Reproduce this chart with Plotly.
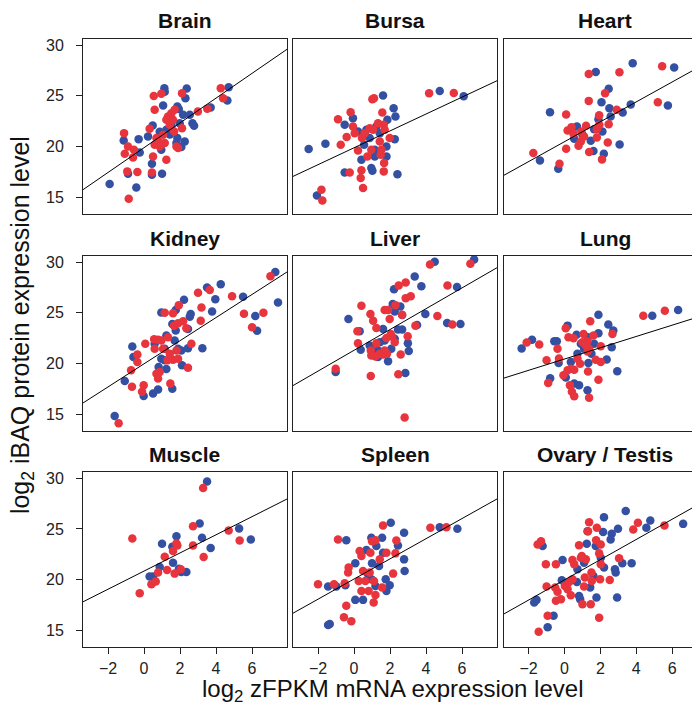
import plotly.graph_objects as go

W, H = 700, 703
FONT = "Liberation Sans, Arial, Helvetica, sans-serif"
BLUE = "#3450A2"
RED = "#E8343D"

panels = ["Brain", "Bursa", "Heart", "Kidney", "Liver", "Lung", "Muscle", "Spleen", "Ovary / Testis"]

x_ticks = [-2, 0, 2, 4, 6]
y_ticks = [15, 20, 25, 30]
x_range = [-3.39, 7.94]
y_range = [13.35, 30.6]

# ---- data (log2 zFPKM mRNA, log2 iBAQ protein) ----
brain_blue_x = [-1.91,-0.43,-0.89,-1.13,-0.24,-0.30,0.44,0.44,1.0,1.06,1.13,1.15,0.48,0.22,0.96,1.43,1.85,1.93,2.3,2.37,2.17,2.26,2.07,1.85,2.69,2.78,2.54,3.7,4.7,4.63,1.52,1.8,1.24,1.98,0.87]
brain_blue_y = [16.34,16.0,17.35,20.62,19.44,20.75,18.33,17.25,17.35,24.05,25.75,25.4,22.1,21.0,19.7,21.2,23.95,23.7,24.77,25.72,23.14,20.52,19.97,20.85,22.32,22.06,23.14,23.86,25.85,24.54,22.06,20.36,21.67,22.32,21.47]
brain_red_x = [-0.85,-0.93,-0.37,-1.11,-1.07,-0.89,-0.56,-0.61,0.44,0.5,0.31,0.54,0.59,0.96,1.24,0.59,0.87,1.15,1.33,1.52,1.24,1.61,1.43,1.7,1.8,1.89,2.11,2.11,1.67,2.99,3.51,4.26,4.39,0.69,1.06,0.81]
brain_red_y = [14.9,17.58,17.52,21.34,19.31,20.03,19.71,18.95,17.48,19.05,21.76,25.0,23.63,25.2,18.73,20.2,20.03,20.36,22.97,23.3,22.65,22.65,22.16,23.63,20.03,19.87,25.26,21.83,21.5,23.46,23.73,25.75,24.77,20.85,21.18,20.52]

bursa_blue_x = [-2.52,-1.59,-2.06,-0.52,-0.06,1.61,2.2,2.3,1.85,-0.52,0.96,1.02,0.41,1.15,1.8,1.8,2.41,2.26,4.76,6.09,0.69,1.43,0.56,0.22,1.24,1.15,0.87]
bursa_blue_y = [19.77,20.29,15.2,22.16,22.81,25.03,23.79,22.97,22.65,17.48,17.91,17.65,18.73,19.71,20.03,19.05,17.29,20.75,25.49,24.97,21.67,21.34,20.2,21.5,21.99,19.05,20.85]
bursa_red_x = [-1.81,-1.76,-0.89,-0.74,-0.41,-0.19,-0.06,-0.24,0.41,0.37,0.5,0.22,0.74,1.02,1.11,1.57,1.65,1.7,1.43,1.52,1.67,1.65,1.98,0.87,0.44,1.06,1.33,0.04,0.96,4.17,5.54,1.48,0.59]
bursa_red_y = [15.78,14.71,22.71,20.2,20.95,23.4,21.99,17.48,17.68,16.93,15.95,19.64,19.05,24.67,24.77,23.37,22.16,21.67,20.52,19.71,18.4,17.58,20.85,21.83,20.85,21.67,22.32,21.34,19.71,25.26,25.29,19.21,21.34]

heart_blue_x = [-1.37,-0.35,-0.81,1.74,2.46,2.06,2.5,2.57,3.24,3.69,3.8,6.11,5.76,3.07,2.19,1.61,1.46,1.65,0.54,0.69,2.11,1.89,1.0]
heart_blue_y = [18.66,17.84,23.4,27.35,25.69,24.38,23.79,22.97,23.37,24.15,28.2,27.78,24.05,20.23,19.31,19.58,20.59,21.73,20.78,21.99,21.5,22.71,21.18]
heart_red_x = [-1.74,-0.28,0.09,0.09,1.35,3.06,2.26,1.35,1.93,2.91,2.46,2.41,2.09,1.37,0.78,0.91,0.17,0.39,0.5,1.2,1.09,1.8,1.94,5.44,5.2,0.94,1.8]
heart_red_y = [19.38,18.33,23.17,19.8,27.16,27.32,25.26,24.51,23.1,23.63,22.22,20.42,18.76,19.48,20.1,20.52,21.6,21.93,21.27,22.06,21.01,21.73,22.16,27.91,24.38,21.5,20.92]

kidney_blue_x = [-1.63,-1.07,-0.65,-0.59,-0.02,0.5,0.78,1.57,1.24,0.81,0.96,1.76,2.22,2.54,2.59,2.11,2.44,3.24,3.78,3.96,3.5,4.26,5.5,1.57,1.76,1.24,1.7,1.15,1.89,0.96,1.15,0.59,2.44,2.07,7.29,6.18,6.28,7.44]
kidney_blue_y = [14.84,18.29,21.69,20.64,16.8,17.06,17.45,17.51,19.47,19.66,25.04,25.27,26.28,24.62,24.88,19.83,21.52,21.52,25.14,26.35,27.49,27.82,26.58,23.9,23.25,22.76,22.27,21.46,21.46,20.48,20.32,21.95,23.41,21.3,29.02,24.68,23.24,26.02]
kidney_red_x = [-1.41,-0.72,-0.37,-0.37,-0.67,-0.11,-0.02,0.07,0.56,0.78,0.69,0.78,0.87,1.15,1.61,1.93,1.46,1.67,1.89,2.17,2.35,2.44,2.63,3.15,3.19,3.0,3.65,4.89,0.96,1.33,1.06,1.43,1.61,1.3,1.89,0.59,1.8,7.02,5.55,6.63,6.0]
kidney_red_y = [14.12,19.34,20.9,20.15,17.71,17.22,17.87,21.95,22.4,22.34,19.01,18.52,19.17,25.01,24.95,25.76,18.03,23.74,23.97,24.16,23.48,19.6,21.95,24.23,25.53,26.97,27.26,26.64,22.27,22.6,21.46,20.97,20.38,20.32,20.48,21.46,21.3,28.6,24.9,25.0,23.57]

liver_blue_x = [-1.02,-0.31,0.31,0.37,0.96,1.33,1.43,1.61,1.89,2.07,2.22,2.15,2.26,2.57,2.67,2.44,2.67,2.99,3.04,2.85,3.37,3.74,3.5,3.96,4.48,5.17,5.72,5.91,6.67,2.26,1.7,0.87,1.33]
liver_blue_y = [19.17,24.39,23.19,21.36,21.36,21.29,22.11,23.41,20.22,21.46,27.33,25.86,25.14,25.63,24.78,23.35,23.35,22.01,21.23,19.08,28.57,27.62,23.81,24.88,30.03,24.0,27.55,23.9,30.26,22.44,22.27,21.78,20.64]
liver_red_x = [-1.02,0.93,0.41,0.19,0.22,0.91,1.06,1.24,1.24,0.93,0.96,1.19,1.61,1.83,1.7,1.89,1.98,2.3,2.48,2.87,2.87,3.15,2.67,1.8,2.11,2.26,2.04,2.98,2.59,2.46,2.81,3.41,4.22,4.63,5.19,5.46,6.46,1.7,1.43]
liver_red_y = [19.5,18.78,25.7,23.19,22.01,24.88,24.23,23.51,22.01,21.29,20.8,20.71,20.9,20.97,25.27,25.27,24.39,25.76,27.69,27.98,26.45,26.64,24.82,22.53,22.66,22.11,22.92,22.7,20.9,18.95,14.68,23.74,29.77,24.69,27.69,23.84,29.84,21.29,20.97]

lung_blue_x = [-2.39,-1.81,-0.57,-0.43,-0.33,0.17,0.67,0.35,0.07,-0.8,0.54,0.81,1.28,1.33,0.72,0.91,1.31,1.65,1.89,1.89,2.44,2.72,2.63,2.35,2.94,4.89,6.33,1.5,1.09]
lung_blue_y = [21.49,22.34,22.21,22.21,20.06,23.74,22.83,20.15,18.62,18.56,18.03,17.87,17.38,20.06,20.97,21.95,22.6,21.95,22.99,24.82,23.84,23.25,21.62,20.41,19.24,24.72,25.27,20.97,21.46]
lung_red_x = [-2.11,-1.41,-1.0,-0.39,-0.31,-0.91,-0.06,0.07,0.22,0.5,0.17,0.35,0.54,0.3,0.41,0.54,0.72,0.87,1.06,1.28,1.43,1.61,1.28,1.37,1.74,2.02,2.02,1.31,1.89,1.37,2.67,4.39,5.59,1.0,1.19]
lung_red_y = [22.08,21.88,20.32,21.46,20.51,18.1,18.85,23.48,22.6,22.5,19.34,19.5,19.4,17.87,17.22,16.79,20.48,19.99,22.92,22.21,24.16,22.76,21.2,21.46,20.38,20.15,21.72,19.21,18.42,16.63,22.92,24.72,25.21,22.11,21.78]

muscle_blue_x = [0.31,0.5,0.87,1.0,1.57,1.61,1.8,1.94,2.35,2.07,3.09,3.22,3.5,3.7,5.28,5.93]
muscle_blue_y = [20.32,20.32,21.26,23.54,23.25,21.69,24.29,21.1,20.77,20.77,25.53,24.13,29.67,23.12,25.04,23.96]
muscle_red_x = [-0.65,-0.24,0.41,0.65,0.78,1.15,1.28,1.61,1.7,1.8,1.85,2.04,2.72,2.72,3.28,3.31,4.7,5.31]
muscle_red_y = [24.07,18.69,19.57,19.83,20.71,22.27,20.97,22.83,20.61,23.58,23.38,21.03,25.27,23.38,29.02,22.24,24.85,23.87]

spleen_blue_x = [-1.44,-1.35,-1.44,-0.98,-0.48,-0.43,0.07,0.07,0.5,0.69,0.96,1.0,0.96,1.19,1.39,1.56,1.61,1.76,1.98,1.8,2.04,2.44,2.78,2.78,2.81,4.76,5.74,1.24,0.78]
spleen_blue_y = [15.56,15.65,19.34,19.34,19.47,23.9,21.62,18.03,18.03,22.93,24.13,21.62,20.06,19.4,21.36,24.13,22.66,20.06,19.47,18.91,25.6,23.38,24.62,22.01,20.87,25.17,25.01,23.32,20.55]
spleen_red_x = [-2.0,-1.11,-0.89,-0.56,-0.15,-0.43,-0.52,-0.33,-0.3,0.26,0.31,0.41,0.41,0.5,0.63,0.81,0.91,1.0,1.2,1.09,1.19,1.11,1.43,1.61,1.8,1.56,2.3,2.35,2.17,4.24,5.13,0.87]
spleen_red_y = [19.57,19.57,23.97,16.31,15.92,17.45,19.66,20.71,21.2,19.89,22.83,22.34,18.91,20.87,19.89,18.91,22.66,23.8,23.9,17.77,18.52,19.89,22.01,25.34,22.66,19.24,22.6,23.87,20.61,25.11,25.17,20.71]

gonad_blue_x = [-1.69,-1.56,-0.94,-0.61,-1.22,-0.11,-0.15,0.07,0.69,0.72,0.81,0.87,1.24,1.28,1.43,1.61,1.78,1.74,2.2,2.15,2.2,2.57,2.63,2.81,2.85,2.98,2.93,3.22,3.41,3.74,4.56,4.78,6.61,2.02,1.09]
gonad_blue_y = [17.77,18.03,15.33,16.47,23.32,21.95,19.96,19.66,19.79,21.03,18.42,18.1,23.54,24.78,19.24,20.38,18.26,23.32,26.15,24.69,21.2,23.97,24.52,21.03,20.71,25.01,18.26,21.62,26.77,21.62,25.11,25.83,25.5,22.18,21.69]
gonad_red_x = [-1.44,-0.94,-1.5,-1.31,-1.04,-0.48,-1.0,-0.52,-0.39,-0.48,-0.2,0.02,0.17,0.35,0.44,0.54,0.44,0.26,0.81,0.96,1.13,1.09,1.0,1.46,1.19,1.37,1.31,1.5,1.52,1.8,1.76,2.02,1.93,1.98,2.02,1.93,2.52,3.04,3.83,4.09,5.57,0.91]
gonad_red_y = [14.9,16.47,23.48,23.8,21.52,21.52,19.34,19.24,18.82,17.94,18.1,19.4,19.08,18.49,21.95,21.52,20.06,19.79,23.41,22.34,20.22,19.34,17.61,17.61,22.01,25.66,24.78,20.71,19.89,25.11,23.9,23.48,22.6,20.06,21.52,16.27,19.99,22.11,24.95,25.6,25.34,22.18]

fit_slopes = [1.218, 0.83, 0.978, 1.139, 1.025, 0.556, 0.892, 0.991, 0.993]
fit_intercepts = [19.91, 19.9, 20.5, 19.98, 21.31, 20.45, 20.86, 20.08, 20.0]

blue_sets = [(brain_blue_x, brain_blue_y), (bursa_blue_x, bursa_blue_y), (heart_blue_x, heart_blue_y),
             (kidney_blue_x, kidney_blue_y), (liver_blue_x, liver_blue_y), (lung_blue_x, lung_blue_y),
             (muscle_blue_x, muscle_blue_y), (spleen_blue_x, spleen_blue_y), (gonad_blue_x, gonad_blue_y)]
red_sets = [(brain_red_x, brain_red_y), (bursa_red_x, bursa_red_y), (heart_red_x, heart_red_y),
            (kidney_red_x, kidney_red_y), (liver_red_x, liver_red_y), (lung_red_x, lung_red_y),
            (muscle_red_x, muscle_red_y), (spleen_red_x, spleen_red_y), (gonad_red_x, gonad_red_y)]

# ---- layout geometry (pixels) ----
col_px = [(75, 279), (285, 489), (495.7, 699)]
row_px = [(29, 205), (246.7, 422.3), (463.3, 639.3)]

fig = go.Figure()
layout = dict(width=W, height=H, margin=dict(l=0, r=0, t=0, b=0), autosize=False,
              paper_bgcolor="white", plot_bgcolor="white", showlegend=False,
              font=dict(family=FONT, color="#111", size=16))
annotations = []

for i, name in enumerate(panels):
    r, c = divmod(i, 3)
    sfx = "" if i == 0 else str(i + 1)
    xa, ya = "x" + sfx, "y" + sfx
    x0, x1 = col_px[c]
    t0, t1 = row_px[r]
    show_y = c == 0
    show_x = r == 2
    layout["xaxis" + sfx] = dict(
        domain=[x0 / W, x1 / W], range=x_range, anchor=ya, showgrid=False, zeroline=False,
        showline=True, linecolor="#222", linewidth=1, mirror=True,
        tickvals=x_ticks, ticks="outside" if show_x else "", ticklen=6, tickcolor="#222",
        showticklabels=show_x, tickfont=dict(size=16, family=FONT, color="#222"))
    layout["yaxis" + sfx] = dict(
        domain=[1 - t1 / H, 1 - t0 / H], range=y_range, anchor=xa, showgrid=False, zeroline=False,
        showline=True, linecolor="#222", linewidth=1, mirror=True,
        tickvals=y_ticks, ticks="outside" if show_y else "", ticklen=6, tickcolor="#222",
        ticklabelstandoff=9,
        showticklabels=show_y, tickfont=dict(size=16, family=FONT, color="#222"))

    bx, by = blue_sets[i]
    rx, ry = red_sets[i]
    fig.add_trace(go.Scatter(x=bx, y=by, mode="markers", xaxis=xa, yaxis=ya,
                             marker=dict(color=BLUE, size=8.5, line=dict(width=0))))
    fig.add_trace(go.Scatter(x=rx, y=ry, mode="markers", xaxis=xa, yaxis=ya,
                             marker=dict(color=RED, size=8.5, line=dict(width=0))))
    lx = list(x_range)
    ly = [fit_intercepts[i] + fit_slopes[i] * v for v in lx]
    fig.add_trace(go.Scatter(x=lx, y=ly, mode="lines", xaxis=xa, yaxis=ya,
                             line=dict(color="black", width=1), hoverinfo="skip"))

    annotations.append(dict(text="<b>%s</b>" % name, x=(x0 + x1) / 2 / W, y=1 - (t0 - 18) / H,
                            xref="paper", yref="paper", xanchor="center", yanchor="middle",
                            showarrow=False, font=dict(size=21, family=FONT, color="#111")))

annotations.append(dict(text="log<sub>2</sub> zFPKM mRNA expression level", x=384 / W, y=1 - 699 / H,
                        xref="paper", yref="paper", xanchor="center", yanchor="bottom", borderpad=0,
                        showarrow=False, font=dict(size=24, family=FONT, color="#111")))
annotations.append(dict(text="log<sub>2</sub> iBAQ protein expression level", x=14 / W, y=1 - 316 / H,
                        xref="paper", yref="paper", xanchor="center", yanchor="middle", textangle=-90,
                        borderpad=0,
                        showarrow=False, font=dict(size=25, family=FONT, color="#111")))
layout["annotations"] = annotations
fig.update_layout(**layout)
fig.write_html("out.html")
